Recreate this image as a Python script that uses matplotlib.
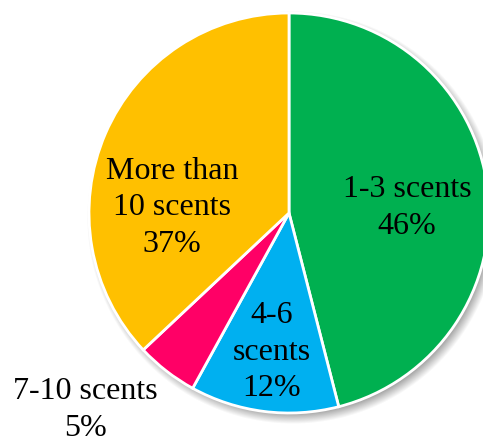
import numpy as np
import matplotlib
matplotlib.use("Agg")
import matplotlib.pyplot as plt

# Number of scents per product
categories = ["1-3 scents", "4-6\nscents", "7-10 scents", "More than\n10 scents"]
shares = [46, 12, 5, 37]
colors = ["#00B050", "#00B0F0", "#FF0066", "#FFC000"]

W, H = 483, 444
fig = plt.figure(figsize=(W / 100, H / 100), dpi=100)
ax = fig.add_axes([0, 0, 1, 1])

cx, cy, R = 289, 231, 200

# soft drop shadow below/right of the pie
sx, sy, blur = cx + 4, cy - 5, 6.0
yy, xx = np.mgrid[0:H, 0:W] + 0.5
d = np.hypot(xx - sx, (H - yy) - sy)
alpha = np.clip((R + blur - d) / (2 * blur), 0, 1) * 0.6
shadow = np.zeros((H, W, 4))
shadow[..., :3] = 0.35
shadow[..., 3] = alpha
ax.imshow(shadow, extent=(0, W, 0, H), origin="upper", zorder=0, interpolation="bilinear")

wedges, _ = ax.pie(
    shares, colors=colors, startangle=90, counterclock=False,
    center=(cx, cy), radius=R,
    wedgeprops=dict(edgecolor="white", linewidth=2),
)
for w in wedges:
    w.set_zorder(2)

# label anchors relative to pie centre, in pixels
label_offsets = [(118, 5), (-17, -139), (-204, -197), (-117, 5)]
for name, val, (dx, dy) in zip(categories, shares, label_offsets):
    ax.text(cx + dx, cy + dy, f"{name}\n{val}%", ha="center", va="center",
            fontsize=23, family="Liberation Serif", color="black",
            linespacing=1.32, zorder=3)

ax.set_xlim(0, W)
ax.set_ylim(0, H)
ax.set_aspect("equal")
ax.axis("off")
fig.savefig("out.png", dpi=100)
